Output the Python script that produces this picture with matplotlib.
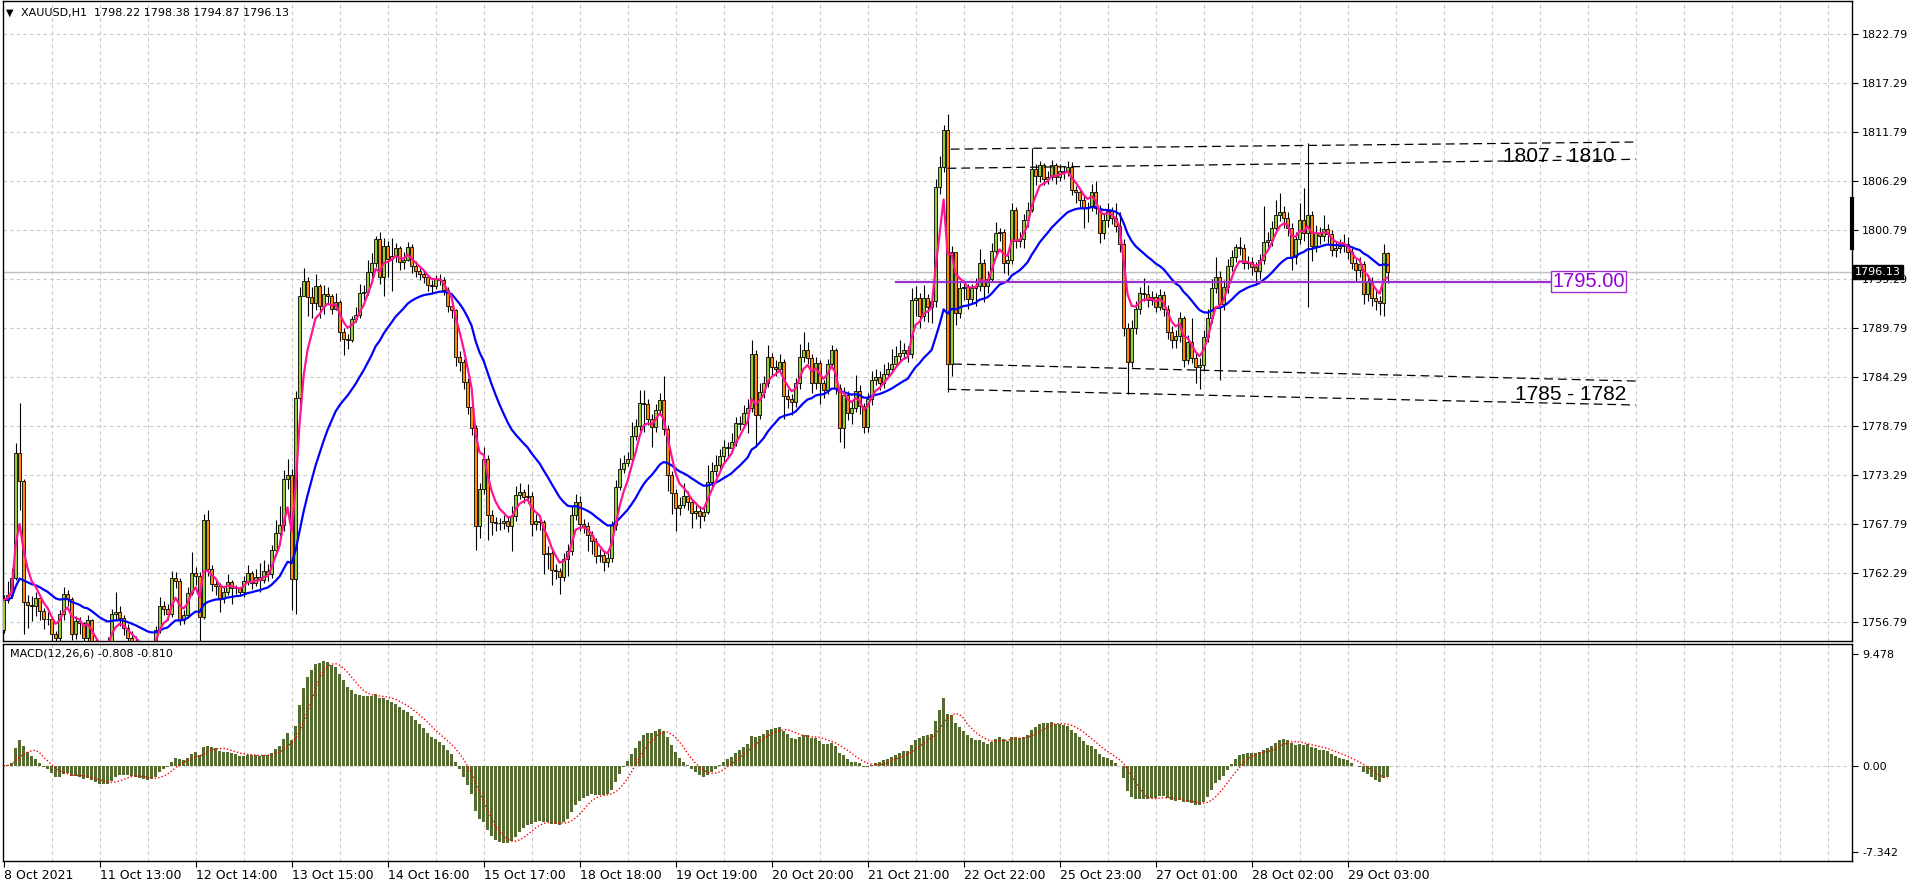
import numpy as np
import pandas as pd
import matplotlib
matplotlib.use("Agg")
import matplotlib.pyplot as plt
import matplotlib.transforms as mtransforms

# XAUUSD H1, 347 bars (open of each bar = previous close)
first_open = 1755.9
close = [
    1759.3, 1759.9, 1761.8, 1775.8, 1772.6, 1759.1, 1758.7, 1758.6, 1759.5, 1758.1,
    1757.2, 1757.2, 1755.5, 1755.0, 1757.7, 1760.0, 1759.4, 1755.5, 1756.9, 1756.7,
    1755.0, 1757.0, 1754.6, 1753.5, 1753.0, 1754.0, 1754.3, 1757.7, 1757.9, 1757.3,
    1756.1, 1755.0, 1754.6, 1754.2, 1753.6, 1753.2, 1753.0, 1754.2, 1755.9, 1758.6,
    1758.3, 1757.7, 1761.8, 1761.4, 1757.0, 1757.6, 1760.1, 1762.3, 1762.0, 1757.4,
    1768.3, 1762.8, 1761.1, 1760.9, 1759.5, 1760.2, 1761.3, 1760.6, 1760.6, 1760.2,
    1761.4, 1762.3, 1761.2, 1761.9, 1761.5, 1762.6, 1762.2, 1764.9, 1766.8, 1767.7,
    1772.9, 1773.3, 1761.6, 1782.0, 1793.4, 1795.1, 1793.3, 1792.6, 1794.5, 1792.3,
    1793.6, 1793.4, 1792.0, 1792.7, 1789.4, 1788.6, 1788.5, 1790.8, 1791.3, 1793.7,
    1793.9, 1796.1, 1797.1, 1799.8, 1795.5, 1799.0, 1797.6, 1797.9, 1798.8, 1797.2,
    1797.5, 1798.9, 1796.8, 1796.2, 1795.9, 1795.5, 1794.6, 1794.5, 1795.3, 1795.2,
    1794.1, 1792.3, 1791.8, 1786.6, 1786.0, 1783.8, 1781.0, 1778.6, 1767.6, 1771.7,
    1775.1, 1768.8, 1768.0, 1767.9, 1767.9, 1768.2, 1767.6, 1768.7, 1771.1, 1771.4,
    1770.9, 1771.0, 1767.8, 1768.2, 1768.0, 1764.5, 1764.6, 1762.7, 1762.5, 1761.9,
    1763.9, 1764.8, 1768.8, 1770.3, 1767.8, 1767.6, 1766.6, 1765.9, 1764.2, 1764.3,
    1763.6, 1764.0, 1767.7, 1772.0, 1774.0, 1774.7, 1775.1, 1777.7, 1778.8, 1781.4,
    1781.3, 1779.6, 1778.7, 1780.6, 1781.7, 1778.5, 1773.3, 1771.3, 1769.6, 1770.0,
    1771.0, 1770.3, 1769.1, 1769.3, 1768.7, 1769.2, 1772.5, 1773.8, 1774.5, 1775.5,
    1776.5, 1776.3, 1777.0, 1779.2, 1779.1, 1780.3, 1780.9, 1786.9, 1780.1, 1782.6,
    1783.6, 1786.6, 1785.5, 1785.2, 1786.0, 1782.2, 1781.8, 1781.5, 1783.6, 1786.6,
    1787.3, 1786.5, 1783.6, 1785.9, 1783.6, 1782.9, 1785.8, 1787.3, 1783.1, 1778.6,
    1782.3, 1780.3, 1780.9, 1782.8, 1781.1, 1778.7, 1781.8, 1784.0, 1784.3, 1783.7,
    1784.7, 1785.2, 1785.8, 1786.7, 1787.0, 1787.3, 1786.9, 1793.0, 1793.2, 1791.2,
    1793.2, 1792.2, 1792.9, 1805.7, 1807.9, 1812.0, 1785.8, 1798.3, 1791.5, 1794.3,
    1794.4, 1793.1, 1794.3, 1794.5, 1797.1, 1794.5, 1795.3, 1798.5, 1800.5, 1800.6,
    1797.1, 1797.5, 1803.1, 1799.6, 1799.8, 1801.9, 1803.1, 1807.7, 1806.9, 1808.1,
    1806.6, 1806.8, 1808.1, 1806.8, 1807.5, 1807.3, 1807.9, 1805.3, 1805.1, 1804.2,
    1803.3, 1803.4, 1805.1, 1803.3, 1800.5, 1801.9, 1803.0, 1802.2, 1801.3, 1799.3,
    1789.8, 1786.0, 1789.8, 1792.0, 1793.7, 1793.6, 1793.0, 1793.3, 1792.2, 1793.5,
    1792.0, 1789.4, 1788.5, 1788.9, 1790.9, 1786.2, 1788.2, 1786.5, 1785.5, 1785.7,
    1788.8, 1791.0, 1794.3, 1795.5, 1792.5, 1794.4, 1796.8, 1797.8, 1798.9, 1798.8,
    1797.1, 1797.2, 1796.7, 1796.2, 1797.5, 1799.5, 1799.7, 1801.1, 1802.5, 1802.9,
    1802.2, 1801.1, 1797.8, 1799.8, 1802.0, 1800.5, 1802.5, 1799.0, 1800.5, 1800.2,
    1800.9, 1800.4, 1798.6, 1798.8, 1799.0, 1799.3, 1798.3, 1797.1, 1796.3, 1797.0,
    1793.6, 1795.0, 1793.2, 1792.8, 1792.6, 1798.22, 1796.13,
]
high = [
    1759.8, 1761.4, 1762.9, 1776.9, 1781.4, 1772.9, 1759.9, 1759.7, 1760.2, 1759.8,
    1758.4, 1757.9, 1757.4, 1755.8, 1758.2, 1760.8, 1760.4, 1759.6, 1757.5, 1757.4,
    1756.8, 1757.6, 1757.2, 1755.0, 1754.2, 1754.6, 1755.1, 1758.3, 1760.2, 1758.6,
    1757.6, 1756.6, 1755.8, 1755.2, 1754.6, 1754.1, 1753.8, 1754.7, 1756.4, 1759.6,
    1759.2, 1758.8, 1762.6, 1762.4, 1761.8, 1758.2, 1760.7, 1764.7, 1763.0, 1762.4,
    1769.0, 1769.4, 1763.2, 1761.6, 1761.2, 1760.8, 1762.2, 1761.5, 1761.0, 1760.8,
    1762.0, 1763.2, 1762.6, 1762.8, 1763.4, 1763.8, 1763.3, 1765.5, 1768.3, 1769.8,
    1773.9, 1775.1, 1774.0, 1782.8, 1794.4, 1796.6, 1795.6, 1794.4, 1795.9, 1794.8,
    1794.6, 1794.4, 1793.6, 1793.8, 1793.0, 1789.8, 1789.2, 1791.2, 1792.2, 1794.8,
    1794.6, 1797.5, 1798.2, 1800.2, 1800.6, 1799.9, 1799.6, 1799.9, 1799.4, 1799.0,
    1798.3, 1799.5, 1799.2, 1797.3, 1796.6, 1796.3, 1795.8, 1795.2, 1795.8, 1795.9,
    1795.5, 1794.4, 1792.8, 1792.0, 1787.2, 1786.4, 1784.2, 1781.4, 1778.9, 1772.4,
    1776.5, 1775.6, 1769.4, 1768.6, 1768.5, 1768.8, 1768.6, 1769.8, 1772.1, 1772.4,
    1771.8, 1772.3, 1771.4, 1768.9, 1768.7, 1768.3, 1765.3, 1764.9, 1763.3, 1762.9,
    1764.6, 1765.6, 1769.8, 1771.2, 1771.0, 1768.4, 1768.0, 1767.0, 1766.2, 1765.0,
    1764.8, 1764.6, 1768.2, 1772.8, 1775.2, 1775.6, 1775.9, 1779.3, 1779.6, 1782.9,
    1782.9, 1781.8, 1780.2, 1781.3, 1782.5, 1784.4, 1778.9, 1773.8, 1771.8, 1770.8,
    1772.4, 1771.5, 1770.6, 1770.0, 1769.8, 1770.0, 1774.4, 1774.8, 1775.6, 1776.2,
    1777.2, 1777.0, 1778.0, 1779.8, 1780.0, 1781.2, 1781.8, 1788.5, 1787.3, 1783.6,
    1784.4, 1787.9, 1787.0, 1786.2, 1786.9, 1786.4, 1783.0, 1782.4, 1784.2, 1788.0,
    1789.4, 1788.3, 1786.9, 1786.6, 1786.2, 1784.0, 1786.4, 1787.9, 1787.6, 1783.5,
    1783.2, 1782.8, 1781.6, 1784.6, 1783.4, 1781.4, 1782.5, 1785.0, 1785.2, 1785.0,
    1785.8, 1786.0, 1787.5, 1787.8, 1788.5, 1788.1, 1787.8, 1794.3, 1794.5, 1793.8,
    1794.6, 1793.6, 1793.9, 1806.6, 1809.1, 1812.6, 1813.9, 1799.0, 1798.0, 1795.0,
    1795.0, 1794.8, 1794.8, 1795.4, 1798.7, 1797.6, 1796.2, 1799.4, 1801.7, 1801.0,
    1800.9, 1798.6, 1803.8, 1803.4, 1800.6, 1802.6, 1804.0, 1810.0, 1808.2, 1808.6,
    1808.4, 1807.5, 1808.7, 1808.4, 1808.2, 1808.0, 1808.6, 1808.5, 1805.8, 1805.5,
    1804.6, 1804.0, 1806.0, 1806.3, 1803.6, 1802.6, 1803.9, 1803.4, 1803.9, 1802.8,
    1799.8, 1790.4, 1790.7, 1792.8, 1794.4, 1795.4, 1794.6, 1794.0, 1793.8, 1794.2,
    1794.0, 1792.4, 1790.0, 1789.6, 1791.6, 1791.2, 1789.0, 1790.9, 1787.0, 1786.5,
    1789.6, 1792.0, 1795.3, 1797.8, 1796.2, 1795.2, 1797.6, 1798.6, 1799.3, 1800.0,
    1799.3, 1797.9, 1797.8, 1797.2, 1798.1, 1803.5, 1800.6, 1801.8, 1804.2, 1805.0,
    1803.5, 1802.8, 1801.6, 1800.6, 1803.9, 1805.5, 1810.6, 1803.0, 1801.4, 1801.2,
    1802.5, 1801.5, 1800.8, 1799.6, 1799.8, 1800.4, 1800.0, 1798.8, 1797.6, 1797.8,
    1797.4, 1795.8, 1795.5, 1794.0, 1793.4, 1799.3, 1798.38,
]
low = [
    1755.6, 1759.0, 1759.5, 1761.5, 1769.4, 1755.5, 1756.2, 1756.9, 1757.5, 1757.0,
    1756.0, 1756.5, 1754.0, 1753.5, 1754.3, 1757.0, 1758.6, 1754.8, 1754.9, 1755.5,
    1754.3, 1754.5, 1753.8, 1752.5, 1752.0, 1752.6, 1753.2, 1753.9, 1756.9, 1756.4,
    1755.4, 1754.4, 1753.9, 1753.4, 1752.9, 1752.4, 1752.2, 1752.7, 1753.9, 1755.6,
    1757.6, 1757.0, 1757.4, 1760.6, 1756.5, 1756.6, 1757.3, 1759.8, 1761.0, 1753.5,
    1757.2, 1762.0, 1760.3, 1759.8, 1758.0, 1759.0, 1759.8, 1758.8, 1760.0, 1759.7,
    1759.6, 1761.0, 1760.5, 1760.9, 1760.2, 1761.2, 1761.4, 1761.8, 1764.2, 1766.5,
    1767.0, 1771.8, 1758.2, 1757.7, 1781.0, 1793.5, 1791.2, 1791.0, 1791.8, 1791.0,
    1791.4, 1792.6, 1791.4, 1791.8, 1788.4, 1786.8, 1787.5, 1788.2, 1790.5, 1790.9,
    1793.0, 1793.5, 1795.4, 1796.7, 1794.8, 1793.4, 1795.5, 1794.0, 1797.2, 1796.3,
    1796.4, 1797.3, 1796.0, 1795.6, 1795.2, 1794.9, 1794.0, 1793.8, 1794.2, 1794.6,
    1793.5, 1791.6, 1790.9, 1785.6, 1785.0, 1783.0, 1780.2, 1777.8, 1764.9, 1766.3,
    1771.2, 1766.0, 1766.6, 1767.0, 1767.2, 1767.3, 1766.9, 1764.8, 1768.2, 1770.6,
    1770.2, 1770.2, 1766.5, 1767.2, 1767.2, 1762.2, 1762.8, 1761.0, 1761.6, 1760.0,
    1761.4, 1762.0, 1764.3, 1768.3, 1767.0, 1766.8, 1764.8, 1764.5, 1763.4, 1763.6,
    1762.6, 1763.0, 1763.6, 1767.2, 1771.6, 1773.6, 1774.3, 1774.8, 1777.2, 1778.3,
    1778.2, 1778.9, 1776.5, 1778.2, 1780.1, 1777.8, 1771.5, 1769.0, 1767.0, 1768.8,
    1769.6, 1769.4, 1767.4, 1768.4, 1767.4, 1768.2, 1768.9, 1771.8, 1773.2, 1774.0,
    1774.8, 1775.4, 1775.8, 1776.6, 1778.4, 1778.6, 1778.0, 1780.4, 1776.5, 1779.6,
    1782.0, 1783.2, 1784.6, 1784.4, 1784.8, 1779.6, 1780.8, 1780.1, 1781.0, 1783.0,
    1786.0, 1785.8, 1782.5, 1783.0, 1781.3, 1782.0, 1782.4, 1785.4, 1782.4, 1777.0,
    1776.4, 1779.5, 1779.0, 1780.4, 1780.2, 1778.0, 1778.2, 1781.2, 1783.4, 1782.9,
    1783.1, 1784.3, 1784.8, 1785.4, 1786.0, 1786.3, 1786.0, 1786.5, 1791.2, 1789.8,
    1790.6, 1790.5, 1790.4, 1792.2, 1804.9, 1807.3, 1782.6, 1784.4, 1790.2, 1790.9,
    1793.0, 1792.0, 1792.6, 1792.3, 1794.0, 1792.7, 1793.8, 1795.0, 1797.9, 1799.6,
    1796.0, 1795.8, 1797.0, 1798.8, 1798.9, 1798.8, 1801.2, 1802.8, 1805.9, 1806.2,
    1805.9, 1806.0, 1806.4, 1806.0, 1806.3, 1806.6, 1806.9, 1804.7, 1803.8, 1803.4,
    1801.0, 1801.7, 1803.0, 1802.6, 1799.4, 1799.8, 1801.2, 1801.5, 1800.6, 1798.3,
    1788.9, 1782.4, 1785.5, 1789.2, 1791.4, 1792.8, 1792.2, 1792.4, 1791.6, 1791.8,
    1791.2, 1788.6, 1787.6, 1787.6, 1788.2, 1785.4, 1785.8, 1785.9, 1783.6, 1783.0,
    1785.0, 1788.2, 1790.4, 1793.8, 1784.0, 1791.8, 1793.8, 1796.2, 1797.2, 1798.0,
    1796.4, 1796.5, 1795.8, 1794.6, 1795.3, 1797.0, 1798.6, 1799.0, 1800.6, 1801.8,
    1801.0, 1800.2, 1796.3, 1797.0, 1799.2, 1799.6, 1792.2, 1797.4, 1798.4, 1799.3,
    1799.6, 1799.4, 1797.9, 1797.8, 1798.2, 1798.4, 1797.6, 1796.4, 1795.0, 1795.6,
    1792.5, 1792.8, 1792.3, 1791.8, 1791.3, 1791.2, 1794.87,
]

price_ticks = [1822.79, 1817.29, 1811.79, 1806.29, 1800.79, 1795.29, 1789.79,
               1784.29, 1778.79, 1773.29, 1767.79, 1762.29, 1756.79]
macd_ticks = [9.478, 0.0, -7.342]
macd_tick_labels = ["9.478", "0.00", "-7.342"]
date_labels = ["8 Oct 2021", "11 Oct 13:00", "12 Oct 14:00", "13 Oct 15:00",
               "14 Oct 16:00", "15 Oct 17:00", "18 Oct 18:00", "19 Oct 19:00",
               "20 Oct 20:00", "21 Oct 21:00", "22 Oct 22:00", "25 Oct 23:00",
               "27 Oct 01:00", "28 Oct 02:00", "29 Oct 03:00"]
bars_per_label = 24

last_price = 1796.13
level_price = 1795.00
# drawn zone lines: (start bar, start price, end bar, end price)
zone_lines = [(236.8, 1809.9, 408.0, 1810.7), (236.0, 1807.75, 408.0, 1808.76),
              (237.4, 1785.78, 408.0, 1783.87), (236.0, 1782.94, 408.0, 1781.18)]
zone_texts = [(374.9, 1808.45, "1807 - 1810"), (377.9, 1781.75, "1785 - 1782")]

header = "XAUUSD,H1  1798.22 1798.38 1794.87 1796.13"
macd_header = "MACD(12,26,6) -0.808 -0.810"

bull_color = "#9ACD32"
bear_color = "#FF8C00"
grid_color = "#C8C8C8"

# ---- figure geometry (pixels of a 1916x884 canvas)
W, H = 1916, 884
fig = plt.figure(figsize=(W / 100, H / 100), dpi=100)
fig.patch.set_facecolor("white")

def box(x0, y0, x1, y1):
    return [x0 / W, 1 - y1 / H, (x1 - x0) / W, (y1 - y0) / H]

ax = fig.add_axes(box(2.7, 1, 1852.3, 641))
axm = fig.add_axes(box(2.7, 644, 1852.3, 861))

xlim = (-0.225, 462.175)
c = np.array(close)
o = np.r_[first_open, c[:-1]]
hi = np.array(high)
lo = np.array(low)
idx = np.arange(len(c))

# ---- grid
grid_ls = (0, (3, 3))
for g in range(12, 463, 12):
    ax.axvline(g, color=grid_color, lw=0.8, ls=grid_ls, zorder=0)
    axm.axvline(g, color=grid_color, lw=0.8, ls=grid_ls, zorder=0)
for p in price_ticks:
    ax.axhline(p, color=grid_color, lw=0.8, ls=grid_ls, zorder=0)
axm.axhline(0, color=grid_color, lw=0.8, ls=grid_ls, zorder=0)

ax.axhline(last_price, color="#C0C0C0", lw=1.0, zorder=1)

# ---- candles
ax.vlines(idx, lo, hi, color="black", lw=0.8, zorder=2)
up = c >= o
ax.bar(idx[up], (c - o)[up], bottom=o[up], width=0.62, color=bull_color,
       edgecolor="black", linewidth=0.6, zorder=3)
ax.bar(idx[~up], (o - c)[~up], bottom=c[~up], width=0.62, color=bear_color,
       edgecolor="black", linewidth=0.6, zorder=3)

# ---- moving averages
s = pd.Series(c)
ma_fast = s.ewm(span=5, adjust=False).mean()
ma_slow = s.ewm(span=25, adjust=False).mean()
ax.plot(idx, ma_slow, color="#0000FF", lw=1.6, zorder=4)
ax.plot(idx, ma_fast, color="#FF1493", lw=1.6, zorder=4)

# ---- annotations
ax.plot([223, 386.6], [level_price, level_price], color="#9932CC", lw=1.6, zorder=5)
ax.text(387.2, level_price, f"{level_price:.2f}", color="#9400D3", fontsize=14.5,
        family="Liberation Sans", va="center", ha="left", zorder=6,
        bbox=dict(boxstyle="square,pad=0.05", fc="white", ec="#9932CC", lw=1))
for x0, y0, x1, y1 in zone_lines:
    ax.plot([x0, x1], [y0, y1], color="black", lw=0.9, ls=(0, (7, 4)), zorder=5)
for x, y, t in zone_texts:
    ax.text(x, y, t, fontsize=15, family="Liberation Sans", color="black",
            ha="left", va="baseline", zorder=6)

ax.set_xlim(*xlim)
ax.set_ylim(1754.69, 1826.53)
ax.set_xticks([])
ax.yaxis.tick_right()
ax.set_yticks(price_ticks)
ax.set_yticklabels([f"{p:.2f}" for p in price_ticks])
ax.tick_params(axis="y", direction="out", length=4, pad=3, labelsize=8,
               width=0.8, colors="black")

trans = mtransforms.blended_transform_factory(ax.transAxes, ax.transData)
ax.text(1.0015, last_price, f"{last_price:.2f}", transform=trans, color="white",
        fontsize=8, va="center", ha="left", zorder=10, clip_on=False,
        bbox=dict(boxstyle="square,pad=0.18", fc="black", ec="black"))
ax.plot([1.0, 1.0], [0.614, 0.6906], transform=ax.transAxes, color="black",
        lw=3, clip_on=False, zorder=10)

fig.text(6 / W, 1 - 13 / H, "\u25BC", fontsize=7, va="center", ha="left")
fig.text(21 / W, 1 - 13 / H, header, fontsize=8, va="center", ha="left")

# ---- MACD
ema12 = s.ewm(span=12, adjust=False).mean()
ema26 = s.ewm(span=26, adjust=False).mean()
macd = ema12 - ema26
signal = macd.rolling(6, min_periods=1).mean()
axm.bar(idx, macd, width=0.6, color="#556B2F", linewidth=0, zorder=2)
axm.plot(idx, signal, color="red", lw=1.0, ls=(0, (1, 1.5)), zorder=3)
axm.set_xlim(*xlim)
axm.set_ylim(-8.11, 10.36)
axm.yaxis.tick_right()
axm.set_yticks(macd_ticks)
axm.set_yticklabels(macd_tick_labels)
axm.tick_params(axis="y", direction="out", length=4, pad=3, labelsize=8, width=0.8)
axm.set_xticks(np.arange(len(date_labels)) * bars_per_label)
axm.set_xticklabels(date_labels, ha="left")
axm.tick_params(axis="x", direction="out", length=4, pad=2, labelsize=9, width=0.8)
axm.text(7 / 1850, 0.955, macd_header, transform=axm.transAxes, fontsize=8,
         va="center", ha="left")

for a in (ax, axm):
    for sp in a.spines.values():
        sp.set_color("black")
        sp.set_linewidth(1.0)

fig.savefig("out.png", dpi=100, facecolor="white")
